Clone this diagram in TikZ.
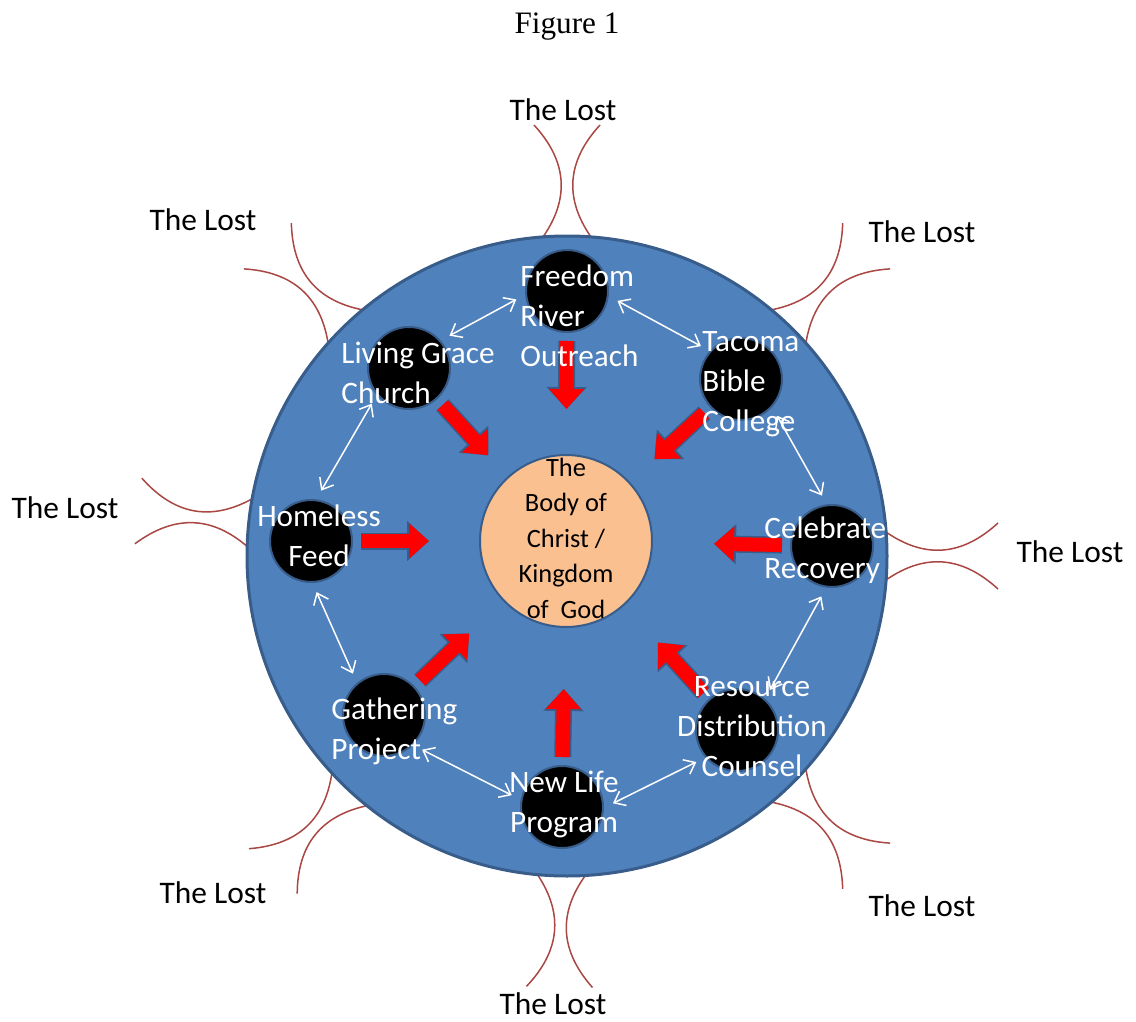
\documentclass[tikz,border=0pt]{standalone}
\usepackage{fontspec}
\setmainfont{Carlito}
\newfontfamily\figfont{Liberation Serif}
\usetikzlibrary{calc,arrows.meta}

\definecolor{ringblue}{HTML}{4F81BD}
\definecolor{edgeblue}{HTML}{385D8A}
\definecolor{peach}{HTML}{FAC090}
\definecolor{lostred}{HTML}{A94743}

\begin{document}
\begin{tikzpicture}[x=0.5pt,y=-0.5pt,
  ministry/.style={circle,fill=black,draw=edgeblue,line width=1pt,minimum size=41pt,inner sep=0pt},
  mtext/.style={text=white,font=\fontsize{15.6}{20}\selectfont,inner sep=0pt},
  losttext/.style={font=\fontsize{15.7}{18}\selectfont,inner sep=0pt},
  lostarc/.style={draw=lostred,line width=0.75pt},
  wlink/.style={draw=white,line width=0.75pt,<->,>={Straight Barb[length=5pt,width=8pt]},
    shorten <=5pt,shorten >=5pt},
  redarrow/.style={draw=red,line width=7pt,-{Triangle[width=17pt,length=10pt]},
    preaction={draw=edgeblue,line width=8.5pt,-{Triangle[width=19.5pt,length=11pt]}}}]

  \def\cx{567}
  \def\cy{556}

  \useasboundingbox (0,0) rectangle (1136,1022);

  % title
  \node[font=\figfont\fontsize{15.6}{18}\selectfont] (title) at (567,27) {Figure 1};

  % the lost, arcs first so the ring covers their ends
  \foreach \ang in {90,46,0,-46,-91,-133,174,134} {
    \begin{scope}[shift={(\cx,\cy)},rotate=\ang-90]
      \draw[lostarc] (-33,-431) .. controls (0,-395) and (3,-358) .. (-24,-319);
      \draw[lostarc] (33,-431) .. controls (0,-395) and (-3,-358) .. (24,-319);
    \end{scope}
  }
  \foreach \x/\y [count=\i] in {563/110,922/232,1070/552,922/906,553/1004,213/893,65/508,203/220}
    \node[losttext] (lost\i) at (\x,\y) {The Lost};

  % ring and centre
  \node[circle,fill=ringblue,draw=edgeblue,line width=1.5pt,minimum size=320pt,inner sep=0pt] (ring) at (\cx,\cy) {};
  \node[circle,fill=peach,draw=edgeblue,line width=1pt,minimum size=86pt,inner sep=0pt] (body) at (566,541) {};
  \node[font=\fontsize{13.2}{17.75}\selectfont,align=center,inner sep=0pt] (body-t) at (566,538)
    {The\\Body of\\Christ /\\Kingdom\\of~ God};

  % ministries
  \node[ministry] (frc) at (567,291) {};
  \node[ministry] (tbc) at (741,379) {};
  \node[ministry] (cr)  at (832,546) {};
  \node[ministry] (rdc) at (737,730) {};
  \node[ministry] (nlp) at (562,807) {};
  \node[ministry] (gp)  at (384,715) {};
  \node[ministry] (hf)  at (311,541) {};
  \node[ministry] (lgc) at (409,368) {};

  % red arrows into the body
  \foreach \m in {frc,tbc,cr,rdc,nlp,gp,hf,lgc}
    \draw[redarrow] ($(\m)!25pt!(body)$) -- ($(\m)!59pt!(body)$);

  % links between neighbours
  \draw[wlink] (frc.185) -- (lgc.41);
  \draw[wlink] (frc.-7) -- (tbc.138);
  \draw[wlink] (tbc.-42) -- (cr.97);
  \draw[wlink] (cr.-98) -- (rdc.48);
  \draw[wlink] (rdc.221) -- (nlp.-1);
  \draw[wlink] (nlp.170) -- (gp.-46);
  \draw[wlink] (gp.130) -- (hf.-88);
  \draw[wlink] (hf.83) -- (lgc.220);

  % names
  \node[mtext,anchor=west,align=left] (frc-t) at (520,316) {Freedom\\River\\Outreach};
  \node[mtext,anchor=west,align=left] (tbc-t) at (702,384) {Tacoma\\Bible\\College};
  \node[mtext,anchor=west,align=left] (cr-t)  at (764,550) {Celebrate\\Recovery};
  \node[mtext,align=center] (rdc-t) at (752,727) {Resource\\Distribution\\Counsel};
  \node[mtext,align=center] (nlp-t) at (564,804) {New Life\\Program};
  \node[mtext,anchor=west,align=left] (gp-t)  at (331,731) {Gathering\\Project};
  \node[mtext,align=center] (hf-t)  at (319,536) {Homeless\\Feed};
  \node[mtext,anchor=west,align=left] (lgc-t) at (341,373) {Living Grace\\Church};

\end{tikzpicture}
\end{document}
